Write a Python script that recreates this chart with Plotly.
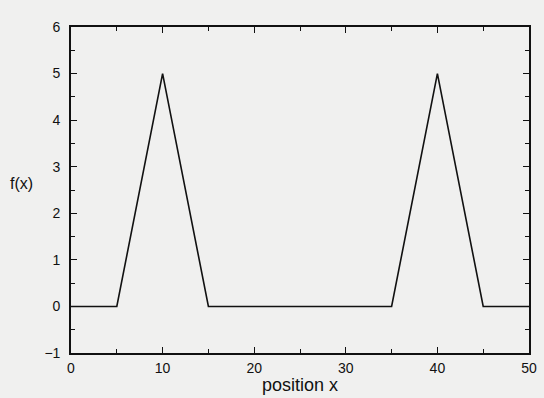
import plotly.graph_objects as go

# data
x_pos = [0, 5, 10, 15, 35, 40, 45, 50]
f_x = [0, 0, 5, 0, 0, 5, 0, 0]

x_ticks = [0, 10, 20, 30, 40, 50]
y_ticks = [-1, 0, 1, 2, 3, 4, 5, 6]

FONT = "Liberation Sans, Arial, sans-serif"

fig = go.Figure()
fig.add_trace(go.Scatter(x=x_pos, y=f_x, mode="lines",
                         line=dict(color="#111111", width=1.6),
                         showlegend=False, hoverinfo="skip"))

axis_common = dict(
    showgrid=False, zeroline=False, showline=True, linecolor="#111111",
    linewidth=1.6, mirror="ticks", ticks="inside", ticklen=6, tickwidth=1.3,
    tickcolor="#111111",
    tickfont=dict(family=FONT, size=14, color="#111111"),
)

fig.update_xaxes(range=[0, 50], tickvals=x_ticks, ticktext=[str(v) for v in x_ticks],
                 minor=dict(dtick=5, ticks="inside", ticklen=4, tickcolor="#111111", tickwidth=1.2),
                 ticklabelstandoff=1,
                 **axis_common)
fig.update_yaxes(range=[-1, 6], tickvals=y_ticks, ticktext=[str(v) if v >= 0 else "\u22121" for v in y_ticks],
                 minor=dict(dtick=0.5, ticks="inside", ticklen=4, tickcolor="#111111", tickwidth=1.2),
                 ticklabelstandoff=6,
                 **axis_common)

fig.add_annotation(text="position x", xref="paper", yref="paper", x=0.5, y=-0.098,
                   yanchor="middle", xanchor="center", showarrow=False,
                   font=dict(family=FONT, size=18, color="#111111"))
fig.add_annotation(text="f(x)", xref="paper", yref="paper", x=-0.079, y=0.52,
                   xanchor="right", yanchor="middle", showarrow=False,
                   font=dict(family=FONT, size=16, color="#111111"))

fig.update_layout(
    width=544, height=398,
    margin=dict(l=71, r=7, t=27, b=45),
    paper_bgcolor="#f0f0ef", plot_bgcolor="#f0f0ef",
)

fig.write_html("out.html")
